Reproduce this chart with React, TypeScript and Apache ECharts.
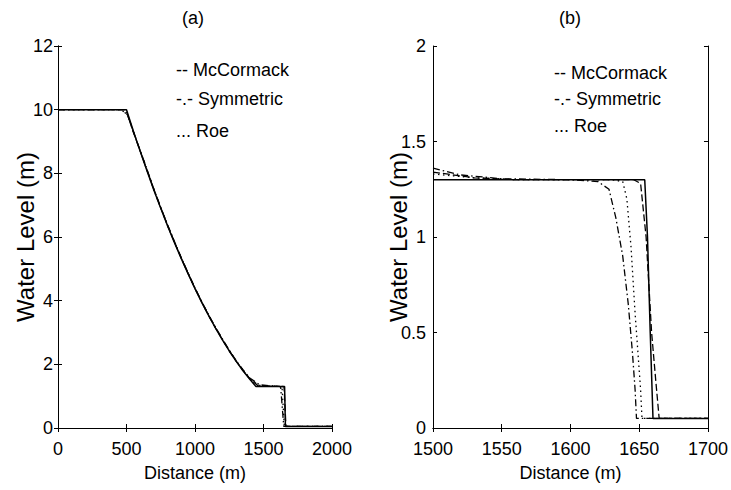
import React, { useEffect, useRef } from "react";
import * as echarts from "echarts";

// ---------- data: panel (a) ----------
const exactA: [number, number][] = [
  [0, 10], [500, 10], [550, 9.33], [600, 8.69], [650, 8.07], [700, 7.47], [750, 6.9],
  [800, 6.35], [850, 5.82], [900, 5.32], [950, 4.84], [1000, 4.38], [1050, 3.94],
  [1100, 3.53], [1150, 3.14], [1200, 2.77], [1250, 2.42], [1300, 2.1], [1350, 1.8],
  [1400, 1.53], [1445, 1.3], [1654, 1.3], [1660, 0.05], [2000, 0.05],
];
const mccormackA: [number, number][] = [
  [0, 10], [495, 10], [550, 9.3], [600, 8.7], [650, 8.1], [700, 7.5], [750, 6.92],
  [800, 6.37], [850, 5.84], [900, 5.33], [950, 4.85], [1000, 4.38], [1050, 3.95],
  [1100, 3.53], [1150, 3.14], [1200, 2.78], [1250, 2.43], [1300, 2.1], [1350, 1.82],
  [1400, 1.55], [1455, 1.34], [1650, 1.3], [1664, 0.05], [2000, 0.05],
];
const symmetricA: [number, number][] = [
  [0, 10], [470, 10], [510, 9.8], [550, 9.3], [600, 8.72], [650, 8.12], [700, 7.5],
  [750, 6.93], [800, 6.38], [850, 5.86], [900, 5.35], [950, 4.87], [1000, 4.4],
  [1050, 3.96], [1100, 3.55], [1150, 3.16], [1200, 2.8], [1250, 2.45], [1300, 2.12],
  [1350, 1.83], [1400, 1.57], [1470, 1.36], [1625, 1.3], [1648, 0.05], [2000, 0.05],
];
const roeA: [number, number][] = [
  [0, 10], [460, 10], [505, 9.85], [550, 9.32], [600, 8.7], [650, 8.09], [700, 7.48],
  [750, 6.91], [800, 6.36], [850, 5.83], [900, 5.33], [950, 4.85], [1000, 4.39],
  [1050, 3.95], [1100, 3.54], [1150, 3.15], [1200, 2.78], [1250, 2.43], [1300, 2.11],
  [1350, 1.81], [1400, 1.55], [1465, 1.34], [1635, 1.3], [1652, 0.05], [2000, 0.05],
];

// ---------- data: panel (b) ----------
const exactB: [number, number][] = [
  [1500, 1.3], [1654, 1.3], [1656, 1.0], [1658, 0.5], [1660, 0.05], [1700, 0.05],
];
const mccormackB: [number, number][] = [
  [1500, 1.34], [1530, 1.31], [1560, 1.3], [1646, 1.3], [1651, 1.28], [1655, 1.0],
  [1659, 0.5], [1662, 0.25], [1664.5, 0.05], [1700, 0.05],
];
const symmetricB: [number, number][] = [
  [1500, 1.36], [1520, 1.325], [1550, 1.305], [1600, 1.3], [1620, 1.29], [1628, 1.25],
  [1633, 1.1], [1638, 0.9], [1642, 0.65], [1645, 0.4], [1647, 0.2], [1648, 0.05], [1700, 0.05],
];
const roeB: [number, number][] = [
  [1500, 1.33], [1530, 1.31], [1560, 1.3], [1630, 1.3], [1638, 1.29], [1641, 1.2],
  [1644, 0.95], [1647, 0.6], [1649, 0.4], [1651, 0.2], [1652, 0.05], [1700, 0.05],
];

const legendLabels = ["-- McCormack", "-.- Symmetric", "... Roe"];
const panelTitles = ["(a)", "(b)"];
const xName = "Distance (m)";
const yName = "Water Level (m)";

const FONT = "'Liberation Sans', Arial, Helvetica, sans-serif";

export default function App() {
  const ref = useRef<HTMLDivElement>(null);

  useEffect(() => {
    if (!ref.current) return;
    const chart = echarts.init(ref.current, undefined, { renderer: "svg" });

    const tickLabel = { color: "#000", fontSize: 18, fontFamily: FONT, formatter: (v: number) => String(v) };
    const axisLine = { show: true, lineStyle: { color: "#000", width: 1 } };
    const axisTick = { show: true, inside: true, length: 4, lineStyle: { color: "#000", width: 1 } };

    const mkX = (grid: number, min: number, max: number, interval: number) => [
      {
        type: "value", gridIndex: grid, min, max, interval, position: "bottom",
        axisLine, axisTick, splitLine: { show: false },
        axisLabel: { ...tickLabel, margin: 12, hideOverlap: false },
        name: xName, nameLocation: "middle", nameGap: 36, nameMoveOverlap: false,
        nameTextStyle: { color: "#000", fontSize: 18, fontFamily: FONT },
      },
      {
        type: "value", gridIndex: grid, min, max, interval, position: "top",
        axisLine, axisTick, splitLine: { show: false }, axisLabel: { show: false },
      },
    ];
    const mkY = (grid: number, min: number, max: number, interval: number, gap: number, margin: number) => [
      {
        type: "value", gridIndex: grid, min, max, interval, position: "left",
        axisLine, axisTick, splitLine: { show: false },
        axisLabel: { ...tickLabel, margin, hideOverlap: false },
        name: yName, nameLocation: "middle", nameGap: gap, nameMoveOverlap: false,
        nameTextStyle: { color: "#000", fontSize: 24, fontFamily: FONT },
      },
      {
        type: "value", gridIndex: grid, min, max, interval, position: "right",
        axisLine, axisTick, splitLine: { show: false }, axisLabel: { show: false },
      },
    ];

    const styles = [
      { type: "solid", width: 1.5 },
      { type: [7, 3], width: 1.3 },
      { type: [7, 3, 1.5, 3], width: 1.3 },
      { type: [1.5, 3.5], width: 1.3 },
    ];
    const seriesFor = (data: [number, number][][], axisIdx: number) =>
      data.map((d, i) => ({
        type: "line",
        xAxisIndex: axisIdx,
        yAxisIndex: axisIdx,
        data: d,
        showSymbol: false,
        symbol: "none",
        lineStyle: { color: "#000", ...styles[i] },
        z: 10 - i,
      }));

    const legendText = (x: number, ys: number[]) =>
      legendLabels.map((t, i) => ({
        type: "text",
        x,
        y: ys[i],
        style: {
          text: t, fill: "#000", fontSize: 18, fontFamily: FONT,
          align: "left", verticalAlign: "middle",
        },
        z: 100,
      }));

    chart.setOption({
      animation: false,
      backgroundColor: "#fff",
      grid: [
        { left: 58, top: 46, width: 274, height: 382 },
        { left: 433, top: 46, width: 276, height: 382 },
      ],
      xAxis: [...mkX(0, 0, 2000, 500), ...mkX(1, 1500, 1700, 50)],
      yAxis: [...mkY(0, 0, 12, 2, 21, 5), ...mkY(1, 0, 2, 0.5, 23, 7)],
      series: [
        ...seriesFor([exactA, mccormackA, symmetricA, roeA], 0),
        ...seriesFor([exactB, mccormackB, symmetricB, roeB], 2),
      ],
      graphic: [
        {
          type: "text", x: 193, y: 18,
          style: { text: panelTitles[0], fill: "#000", fontSize: 18, fontFamily: FONT, align: "center", verticalAlign: "middle" },
        },
        {
          type: "text", x: 570, y: 18,
          style: { text: panelTitles[1], fill: "#000", fontSize: 18, fontFamily: FONT, align: "center", verticalAlign: "middle" },
        },
        ...legendText(176, [70, 99, 131]),
        ...legendText(554, [73, 99, 126]),
      ],
    });

    return () => chart.dispose();
  }, []);

  return (
    <div
      ref={ref}
      style={{ position: "absolute", left: 0, top: 0, width: 731, height: 490, background: "#fff" }}
    />
  );
}
